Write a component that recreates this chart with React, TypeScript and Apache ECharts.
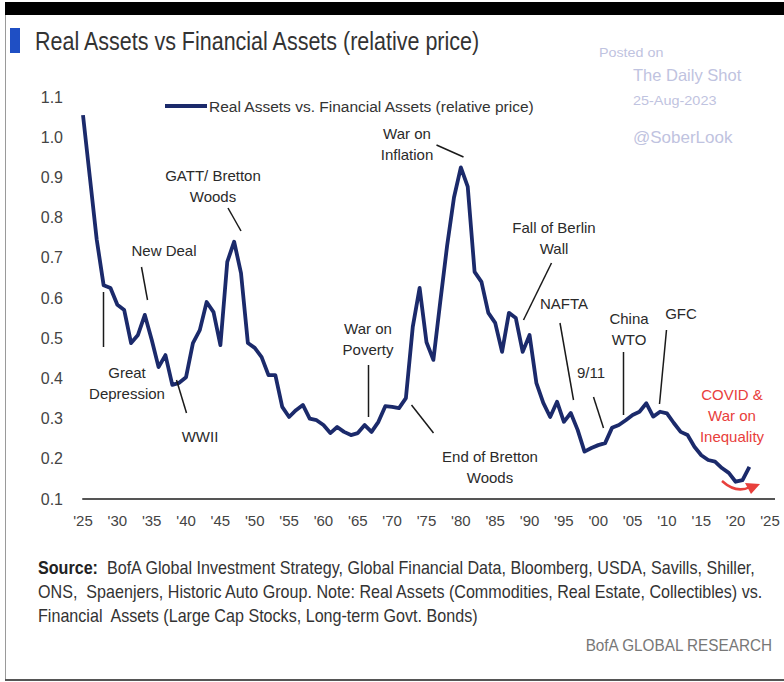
import React, { useEffect, useRef } from "react";
import * as echarts from "echarts";

const years = [
  1925, 1926, 1927, 1928, 1929, 1930, 1931, 1932, 1933, 1934, 1935, 1936, 1937, 1938, 1939,
  1940, 1941, 1942, 1943, 1944, 1945, 1946, 1947, 1948, 1949, 1950, 1951, 1952, 1953, 1954,
  1955, 1956, 1957, 1958, 1959, 1960, 1961, 1962, 1963, 1964, 1965, 1966, 1967, 1968, 1969,
  1970, 1971, 1972, 1973, 1974, 1975, 1976, 1977, 1978, 1979, 1980, 1981, 1982, 1983, 1984,
  1985, 1986, 1987, 1988, 1989, 1990, 1991, 1992, 1993, 1994, 1995, 1996, 1997, 1998, 1999,
  2000, 2001, 2002, 2003, 2004, 2005, 2006, 2007, 2008, 2009, 2010, 2011, 2012, 2013, 2014,
  2015, 2016, 2017, 2018, 2019, 2020, 2021, 2022,
];

const relativePrice = [
  1.055, 0.9, 0.745, 0.632, 0.625, 0.583, 0.57, 0.488, 0.508, 0.558, 0.496, 0.428, 0.458, 0.384, 0.389,
  0.403, 0.488, 0.52, 0.59, 0.565, 0.483, 0.69, 0.74, 0.662, 0.488, 0.476, 0.453, 0.408, 0.408, 0.329,
  0.304, 0.321, 0.334, 0.3, 0.296, 0.284, 0.264, 0.279, 0.267, 0.259, 0.264, 0.284, 0.267, 0.292, 0.331,
  0.329, 0.326, 0.351, 0.528, 0.625, 0.49, 0.446, 0.59, 0.73, 0.85, 0.925, 0.877, 0.665, 0.64, 0.563,
  0.538, 0.466, 0.563, 0.55, 0.466, 0.508, 0.388, 0.339, 0.304, 0.342, 0.292, 0.314, 0.272, 0.218, 0.227,
  0.234, 0.239, 0.277, 0.284, 0.296, 0.309, 0.317, 0.338, 0.305, 0.317, 0.313, 0.289, 0.267, 0.259, 0.23,
  0.209, 0.197, 0.193, 0.177, 0.165, 0.143, 0.147, 0.18,
];

const seriesName = "Real Assets vs. Financial Assets (relative price)";
const titleText = "Real Assets vs Financial Assets (relative price)";
const footerLines = [
  "{b|Source:}  BofA Global Investment Strategy, Global Financial Data, Bloomberg, USDA, Savills, Shiller,",
  "ONS,  Spaenjers, Historic Auto Group. Note: Real Assets (Commodities, Real Estate, Collectibles) vs.",
  "Financial  Assets (Large Cap Stocks, Long-term Govt. Bonds)",
];

const SANS = "'Liberation Sans', Arial, sans-serif";

export default function App() {
  const ref = useRef<HTMLDivElement>(null);

  useEffect(() => {
    if (!ref.current) return;
    const chart = echarts.init(ref.current, null, { renderer: "svg" });

    const ann = (x: number, y: number, text: string, fill = "#2a2a2a") => ({
      type: "text",
      x,
      y,
      z: 10,
      style: {
        text,
        fill,
        fontSize: 15,
        fontFamily: SANS,
        textAlign: "center",
        textVerticalAlign: "middle",
        lineHeight: 21,
      },
    });
    const lead = (x1: number, y1: number, x2: number, y2: number) => ({
      type: "line",
      z: 10,
      shape: { x1, y1, x2, y2 },
      style: { stroke: "#1a1a1a", lineWidth: 1.5 },
    });
    const wm = (x: number, y: number, text: string, fontSize: number, scaleX: number) => ({
      type: "text",
      x,
      y,
      scaleX,
      style: { text, fill: "#bfc3e0", fontSize, fontFamily: SANS, textVerticalAlign: "middle" },
    });

    const option: any = {
      animation: false,
      backgroundColor: "#ffffff",
      grid: { left: 83, right: 14, top: 97, bottom: 183 },
      legend: {
        show: true,
        left: 160,
        top: 93,
        icon: "rect",
        itemWidth: 42,
        itemHeight: 4,
        textStyle: { fontFamily: SANS, fontSize: 15.5, color: "#333", padding: [0, 0, 0, -3] },
        data: [seriesName],
      },
      xAxis: {
        type: "value",
        min: 1925,
        max: 2025,
        interval: 5,
        axisLine: { show: true, lineStyle: { color: "#555", width: 2 } },
        axisTick: { show: false },
        splitLine: { show: false },
        axisLabel: {
          margin: 14,
          color: "#444",
          fontSize: 15,
          fontFamily: SANS,
          formatter: (v: number) => "'" + String(v).slice(2),
        },
      },
      yAxis: {
        type: "value",
        min: 0.1,
        max: 1.1,
        interval: 0.1,
        axisLine: { show: false },
        axisTick: { show: false },
        splitLine: { show: false },
        axisLabel: {
          margin: 20,
          color: "#444",
          fontSize: 16,
          fontFamily: SANS,
          formatter: (v: number) => v.toFixed(1),
        },
      },
      series: [
        {
          name: seriesName,
          type: "line",
          data: years.map((y, i) => [y, relativePrice[i]]),
          showSymbol: false,
          symbol: "none",
          lineStyle: { color: "#1b2a6b", width: 3.8, join: "round" },
          itemStyle: { color: "#1b2a6b" },
        },
      ],
      graphic: [
        // frame
        { type: "rect", shape: { x: 5, y: 2, width: 779, height: 13 }, style: { fill: "#000" } },
        { type: "line", shape: { x1: 5.5, y1: 15, x2: 5.5, y2: 680 }, style: { stroke: "#9a9a9a", lineWidth: 1 } },
        { type: "line", shape: { x1: 5, y1: 680, x2: 784, y2: 680 }, style: { stroke: "#555", lineWidth: 2 } },
        // axis line extension beyond last tick
        { type: "line", shape: { x1: 769, y1: 499, x2: 775, y2: 499 }, style: { stroke: "#555", lineWidth: 2 } },
        // title
        { type: "rect", shape: { x: 10, y: 28, width: 10, height: 25 }, style: { fill: "#1f4fc4" } },
        {
          type: "text",
          x: 35,
          y: 41,
          scaleX: 0.86,
          style: {
            text: titleText,
            fill: "#333",
            fontSize: 25,
            fontFamily: SANS,
            textVerticalAlign: "middle",
          },
        },
        // watermark
        wm(599, 53, "Posted on", 13, 1.1),
        wm(633, 75, "The Daily Shot", 16.5, 1),
        wm(633, 100, "25-Aug-2023", 13.5, 1.07),
        wm(633, 137, "@SoberLook", 17, 1),
        // annotations
        ann(213, 186, "GATT/ Bretton\nWoods"),
        lead(228, 208, 241, 231),
        ann(164, 250, "New Deal"),
        lead(141.5, 267, 147.5, 300),
        ann(127, 383, "Great\nDepression"),
        lead(103.5, 292, 103.5, 347),
        ann(200, 436, "WWII"),
        lead(176.5, 380, 186.5, 413),
        ann(368, 339, "War on\nPoverty"),
        lead(368.5, 365, 368.5, 417),
        ann(490, 467, "End of Bretton\nWoods"),
        lead(411.5, 405, 433.5, 433),
        ann(407, 144, "War on\nInflation"),
        lead(436.5, 145, 463.5, 157),
        ann(554, 238, "Fall of Berlin\nWall"),
        lead(551.5, 263, 523.5, 320),
        ann(564, 303, "NAFTA"),
        lead(560, 323, 573.5, 400),
        ann(591, 372, "9/11"),
        lead(593.5, 397, 603.5, 428),
        ann(629, 329, "China\nWTO"),
        lead(623.5, 352, 623.5, 415),
        ann(681, 313, "GFC"),
        lead(666.5, 330, 659.5, 404),
        ann(732, 415, "COVID &\nWar on\nInequality", "#e8403c"),
        {
          type: "bezierCurve",
          z: 10,
          shape: { x1: 722, y1: 481, x2: 750, y2: 487, cpx1: 732, cpy1: 490, cpx2: 742, cpy2: 491 },
          style: { stroke: "#e8403c", lineWidth: 2.5, fill: null },
        },
        {
          type: "polygon",
          z: 10,
          shape: { points: [[745, 483], [760, 484], [751, 494]] },
          style: { fill: "#e8403c" },
        },
        // footer
        ...footerLines.map((t, i) => ({
          type: "text",
          x: 38,
          y: 568 + i * 24,
          scaleX: 0.895,
          style: {
            text: t,
            fill: "#333",
            fontSize: 18,
            fontFamily: SANS,
            textVerticalAlign: "middle",
            rich: { b: { fontWeight: "bold", fontSize: 18, fontFamily: SANS, fill: "#222" } },
          },
        })),
        {
          type: "text",
          x: 772,
          y: 645,
          scaleX: 0.9,
          style: {
            text: "BofA GLOBAL RESEARCH",
            fill: "#777",
            fontSize: 17,
            fontFamily: SANS,
            textAlign: "right",
            textVerticalAlign: "middle",
          },
        },
      ],
    };

    chart.setOption(option);
    return () => chart.dispose();
  }, []);

  return (
    <div
      ref={ref}
      style={{ position: "fixed", left: 0, top: 0, width: 784, height: 682, background: "#fff" }}
    />
  );
}
